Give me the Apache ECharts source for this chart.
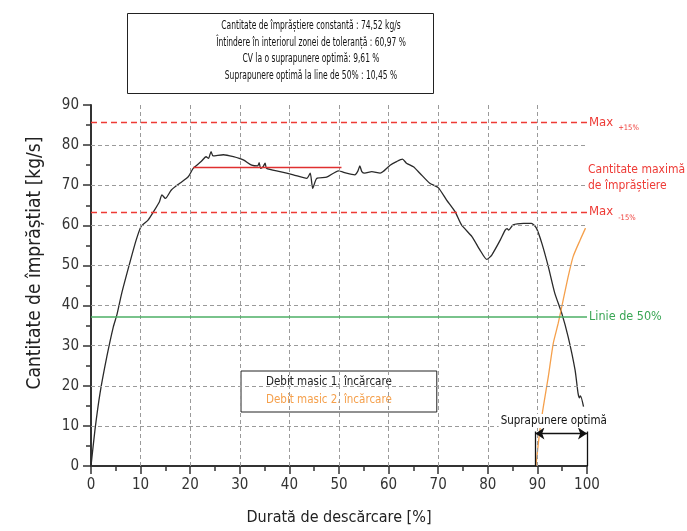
<!DOCTYPE html>
<html>
<head>
<meta charset="utf-8">
<script src="https://cdn.jsdelivr.net/npm/echarts@6/dist/echarts.min.js"></script>
<style>html,body{margin:0;padding:0;background:#fff}#c{width:687px;height:531px}</style>
</head>
<body>
<div id="c"></div>
<script>
// ---- data ----
const duration1 = [0,0.8,1.8,3.2,4.5,5.2,6.2,7.9,9.1,10.1,11.5,12.8,13.8,14.3,15,16.2,17.9,19.6,20.6,22.2,23.2,23.7,24.2,24.6,26.7,28.7,30.7,32.4,33.6,33.9,34.2,34.7,35.1,35.4,38.1,40.8,43.5,44.2,44.7,45.5,47.5,49.9,51.5,53.2,53.8,54.2,54.6,55.2,56.6,58.3,58.9,60.3,61.6,62.8,63.6,65,66.3,68.3,70,71.7,73.4,74.7,76.8,78.4,79.8,80.8,82.5,83.5,83.9,84.2,85.1,87.2,88.8,89.8,90.9,92.2,93.5,94.9,96.2,97.6,98.2,98.5,98.7,99.3];
const flow1 = [0,9,18,27.3,34.7,37.6,43.1,51,56.3,59.7,61.3,63.8,65.9,67.6,66.7,68.8,70.5,72.1,74.2,75.9,77.1,76.7,78.4,77.3,77.6,77.1,76.3,75,74.8,75.6,74.2,74.6,75.5,74.2,73.4,72.6,71.7,73,69.2,71.7,72,73.6,73,72.6,73.5,74.8,73.4,73,73.4,73,73.4,75,75.9,76.5,75.5,74.6,73,70.5,69.4,66.3,63.4,60.1,57.2,53.9,51.5,52.6,56.3,58.8,59.2,58.8,60.1,60.5,60.5,59.3,55.5,49.7,43.1,38.1,32.2,23.9,18.1,17,17.5,14.8];
const duration2 = [89.7,90.5,91.2,92.2,93.2,94.2,95.2,96.2,97.2,98.6,99.7];
const flow2 = [0,9,14.8,22.3,30.6,35.6,41.4,47.2,52.2,56.3,59.3];
const seriesNames = ['Debit masic 1. încărcare','Debit masic 2. încărcare'];
const gridX = [10,20,30,40,50,60,70,80,90];
const gridY = [10,20,30,40,50,60,70,80];
const maxPlus = 85.7, maxMinus = 63.3, line50 = 37.3;
const constantValue = 74.52, constantRange = [20.6, 50.5];
const overlapRange = [89.6, 100];
const infoLines = [
  'Cantitate de împrăștiere constantă : 74,52 kg/s',
  'Întindere în interiorul zonei de toleranță : 60,97 %',
  'CV la o suprapunere optimă: 9,61 %',
  'Suprapunere optimă la line de 50% : 10,45 %'
];

const FONT = "'DejaVu Sans Condensed','Liberation Sans Narrow','Noto Sans',sans-serif";
const zip = (a,b) => a.map((v,i)=>[v,b[i]]);
const RED = '#ee3b36', GREEN = '#4caf64', ORANGE = '#f5a04c', BLACK = '#2a2a2a';

const chart = echarts.init(document.getElementById('c'));
const axisCommon = {
  type:'value',
  axisLine:{show:true,lineStyle:{color:'#333',width:2}},
  axisTick:{show:true,length:8,lineStyle:{color:'#333',width:1.5}},
  minorTick:{show:true,splitNumber:2,length:5,lineStyle:{color:'#333',width:1.5}},
  axisLabel:{fontSize:15,color:'#333',fontFamily:FONT},
  splitLine:{show:false}
};
const subRich = {a:{fontSize:13,color:RED,fontFamily:FONT},b:{fontSize:7.5,color:RED,fontFamily:FONT,padding:[12,0,0,5]}};
chart.setOption({
  animation:false,
  textStyle:{fontFamily:FONT},
  grid:{left:91,right:100,top:105,bottom:65},
  legend:{
    left:241, top:371, orient:'vertical',
    backgroundColor:'#fff', borderColor:'#222', borderWidth:1,
    padding:[4,45,4,19], itemGap:3, itemWidth:0, itemHeight:0,
    textStyle:{fontSize:11.5,lineHeight:15,fontFamily:FONT},
    data:[{name:seriesNames[0],textStyle:{color:'#222'}},{name:seriesNames[1],textStyle:{color:ORANGE}}],
    selectedMode:false
  },
  xAxis:Object.assign({},axisCommon,{min:0,max:100,interval:10,
    axisLabel:Object.assign({},axisCommon.axisLabel,{margin:12}),
    name:'Durată de descărcare [%]',nameLocation:'middle',nameGap:44,
    nameTextStyle:{fontSize:16,color:'#222',fontFamily:FONT}}),
  yAxis:Object.assign({},axisCommon,{min:0,max:90,interval:10,
    axisLabel:Object.assign({},axisCommon.axisLabel,{margin:12})}),
  graphic:[
    {type:'rect',shape:{x:127.5,y:13.5,width:306,height:80},style:{fill:'#fff',stroke:'#222',lineWidth:1},z:10},
    {type:'text',x:311,y:18,scaleX:0.7,z:11,style:{text:infoLines.join('\n'),align:'center',verticalAlign:'top',fontSize:12,fontFamily:FONT,lineHeight:16.5,fill:'#111'}},
    {type:'text',x:35,y:263,rotation:Math.PI/2,z:11,style:{text:'Cantitate de împrăștiat [kg/s]',align:'center',verticalAlign:'middle',fontSize:19,fontFamily:FONT,fill:'#222'}}
  ],
  series:[
    {type:'line',name:'gridlines',data:[],z:1,silent:true,
      markLine:{symbol:'none',silent:true,animation:false,label:{show:false},
        lineStyle:{type:[4,3],color:'#9a9a9a',width:1},
        data:gridX.map(v=>({xAxis:v})).concat(gridY.map(v=>({yAxis:v})))}},
    {type:'line',name:'blank',data:[],z:1.5,silent:true,
      markArea:{silent:true,itemStyle:{color:'#fff'},data:[[{coord:[79.3,0.3]},{coord:[100,14.4]}]]}},
    {type:'line',name:'refs',data:[],z:2,silent:true,
      markLine:{symbol:'none',silent:true,animation:false,
        data:[
          {yAxis:maxPlus,lineStyle:{color:RED,type:[6,4],width:1.3},
            label:{show:true,position:'end',distance:2,formatter:'{a|Max}{b|+15%}',rich:subRich}},
          {yAxis:maxMinus,lineStyle:{color:RED,type:[6,4],width:1.3},
            label:{show:true,position:'end',distance:2,formatter:'{a|Max}{b|-15%}',rich:subRich}},
          {yAxis:line50,lineStyle:{color:GREEN,type:'solid',width:1.6},
            label:{show:true,position:'end',distance:2,formatter:'Linie de 50%',color:'#3aa655',fontSize:12.5,fontFamily:FONT}},
          [{coord:[constantRange[0],constantValue],lineStyle:{color:'#e03030',type:'solid',width:1.3},label:{show:false}},
           {coord:[constantRange[1],constantValue]}]
        ]},
      markPoint:{silent:true,symbol:'circle',symbolSize:0,
        data:[{coord:[100,71.8],label:{show:true,position:'right',distance:1,formatter:'Cantitate maximă\nde împrăștiere',color:RED,fontSize:12,lineHeight:16,fontFamily:FONT,align:'left'}}]}},
    {type:'line',name:seriesNames[0],data:zip(duration1,flow1),showSymbol:false,smooth:0.2,z:3,
      lineStyle:{color:BLACK,width:1.3},itemStyle:{color:BLACK}},
    {type:'line',name:seriesNames[1],data:zip(duration2,flow2),showSymbol:false,smooth:0.2,z:3,
      lineStyle:{color:ORANGE,width:1.3},itemStyle:{color:ORANGE}},
    {type:'line',name:'overlap',data:[],z:4,silent:true,
      markLine:{symbol:'none',silent:true,animation:false,symbolSize:9,
        lineStyle:{color:'#111',width:1.3,type:'solid'},label:{show:false},
        data:[
          [{coord:[overlapRange[0],0]},{coord:[overlapRange[0],8.6]}],
          [{coord:[overlapRange[1],0]},{coord:[overlapRange[1],8.6]}],
          [{coord:[overlapRange[0],8.1],symbol:'arrow'},{coord:[overlapRange[1],8.1],symbol:'arrow'}]
        ]},
      markPoint:{silent:true,symbol:'circle',symbolSize:0,
        data:[{coord:[93.3,11.2],label:{show:true,position:'inside',formatter:'Suprapunere optimă',color:'#111',fontSize:11.5,fontFamily:FONT,backgroundColor:'#fff',padding:[1,2]}}]}}
  ]
});
</script>
</body>
</html>
